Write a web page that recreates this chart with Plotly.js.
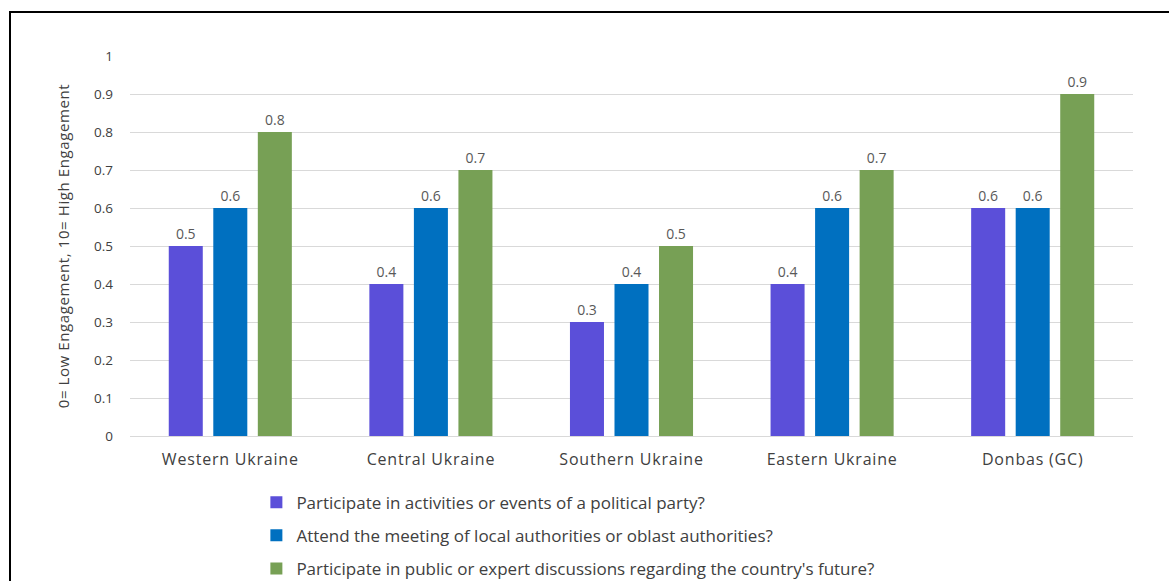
<!DOCTYPE html>
<html>
<head>
<meta charset="utf-8">
<script src="https://cdn.plot.ly/plotly-3.0.1.min.js"></script>
<style>
html,body{margin:0;padding:0;background:#fff;}
#wrap{position:relative;width:1169px;height:581px;overflow:hidden;}
#frame{position:absolute;left:9px;top:11px;width:1200px;height:700px;border-top:2px solid #000;border-left:2px solid #000;pointer-events:none;z-index:5;}
#chart{position:absolute;left:0;top:0;width:1169px;height:640px;}
#chart .xtick text{letter-spacing:0.8px;}
#chart .ytitle{letter-spacing:0.6px;}
</style>
</head>
<body>
<div id="wrap"><div id="chart"></div><div id="frame"></div></div>
<script>
const categories = ["Western Ukraine", "Central Ukraine", "Southern Ukraine", "Eastern Ukraine", "Donbas (GC)"];
const seriesNames = [
  "Participate in activities or events of a political party?",
  "Attend the meeting of local authorities or oblast authorities?",
  "Participate in public or expert discussions regarding the country's future?"
];
const partyEvents = [0.5, 0.4, 0.3, 0.4, 0.6];
const localMeetings = [0.6, 0.6, 0.4, 0.6, 0.6];
const publicDiscussions = [0.8, 0.7, 0.5, 0.7, 0.9];
const yTicks = [0, 0.1, 0.2, 0.3, 0.4, 0.5, 0.6, 0.7, 0.8, 0.9, 1];
const yTickLabels = ["0", "0.1", "0.2", "0.3", "0.4", "0.5", "0.6", "0.7", "0.8", "0.9", "1"];
const colors = ["#5b4fd9", "#0070c0", "#77a055"];

const font = "'Open Sans', Lato, sans-serif";
const allSeries = [partyEvents, localMeetings, publicDiscussions];
const traces = allSeries.map((vals, i) => ({
  type: "bar",
  name: seriesNames[i],
  x: categories,
  y: vals,
  marker: {color: colors[i]},
  text: vals.map(v => String(v)),
  textposition: "outside",
  cliponaxis: false,
  textfont: {family: font, size: 14, color: "#595959"},
  legendgroup: "g" + i,
  hoverinfo: "x+y"
}));

const layout = {
  width: 1169, height: 640,
  margin: {l: 130, r: 36, t: 56, b: 204},
  paper_bgcolor: "#fff", plot_bgcolor: "#fff",
  barmode: "group",
  bargap: 0.334,
  bargroupgap: 0.236,
  font: {family: font, color: "#595959"},
  xaxis: {
    type: "category",
    tickfont: {family: font, size: 16, color: "#404040"},
    showgrid: false, showline: false, ticks: "", ticklen: 0,
    ticklabelstandoff: 12
  },
  yaxis: {
    range: [0, 1],
    tickvals: yTicks, ticktext: yTickLabels,
    tickfont: {family: font, size: 13.5, color: "#404040"},
    gridcolor: "#d9d9d9", gridwidth: 1,
    zeroline: true, zerolinecolor: "#d9d9d9", zerolinewidth: 1,
    showline: false, ticks: "", ticklen: 0,
    ticklabelstandoff: 16,
    title: {text: "0= Low Engagement, 10= High Engagement", font: {family: font, size: 15, color: "#404040"}, standoff: 20}
  },
  showlegend: true,
  legend: {
    orientation: "v",
    x: 0.126, xanchor: "left",
    y: -0.128, yanchor: "top",
    traceorder: "grouped",
    tracegroupgap: 8,
    font: {family: font, size: 17, color: "#404040"},
    itemwidth: 30,
    bgcolor: "rgba(0,0,0,0)"
  }
};

Plotly.newPlot("chart", traces, layout, {displayModeBar: false, staticPlot: true});
</script>
</body>
</html>
